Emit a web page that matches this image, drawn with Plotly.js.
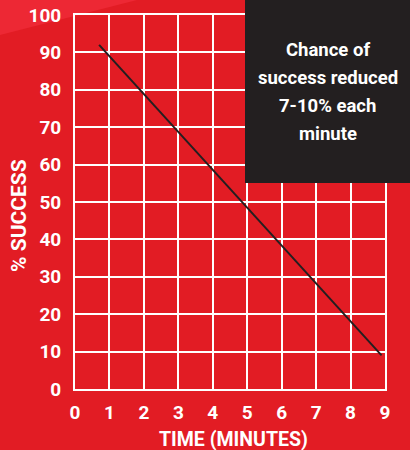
<!DOCTYPE html>
<html>
<head>
<meta charset="utf-8">
<script src="https://cdn.plot.ly/plotly-3.0.1.min.js"></script>
<style>
html,body{margin:0;padding:0;background:#e21c24;}
#chart{width:410px;height:450px;}
</style>
</head>
<body>
<div id="chart"></div>
<script>
// Data
const timeMinutes = [0.7, 8.9];
const successPct = [92, 9];
const xTicks = [0, 1, 2, 3, 4, 5, 6, 7, 8, 9];
const yTicks = [0, 10, 20, 30, 40, 50, 60, 70, 80, 90, 100];
const boxLines = ["Chance of", "success reduced", "7-10% each", "minute"];
const xTitle = "TIME (MINUTES)";
const yTitle = "% SUCCESS";

const W = 410, H = 450;
const L = 75, R = 25, T = 15, B = 61;
const pw = W - L - R, ph = H - T - B;
const px = v => (v - L) / pw;
const py = v => (H - B - v) / ph;

const font = {family: "Roboto, 'DejaVu Sans', sans-serif", color: "#ffffff", size: 19, weight: 700};

const trace = {
  x: timeMinutes, y: successPct, type: "scatter", mode: "lines",
  line: {color: "#231f20", width: 2}, hoverinfo: "skip"
};

const axisCommon = {
  showgrid: true, gridcolor: "#ffffff", gridwidth: 2,
  showline: true, linecolor: "#ffffff", linewidth: 2, mirror: true,
  zeroline: false, ticks: "", fixedrange: true,
  tickfont: font
};

const boxLineY = [50, 78, 106, 134];

const layout = {
  width: W, height: H,
  margin: {l: L, r: R, t: T, b: B, pad: 0},
  paper_bgcolor: "#e21c24", plot_bgcolor: "#e21c24",
  showlegend: false,
  xaxis: Object.assign({}, axisCommon, {range: [0, 9], tickvals: xTicks, ticktext: xTicks.map(String), ticklabelstandoff: 5}),
  yaxis: Object.assign({}, axisCommon, {range: [0, 100], tickvals: yTicks, ticktext: yTicks.map(String), ticklabelstandoff: 8}),
  shapes: [
    {type: "path", xref: "paper", yref: "paper", layer: "below",
     path: `M ${px(0)} ${py(0)} L ${px(0)} ${py(35)} L ${px(137)} ${py(0)} Z`,
     fillcolor: "#ed2834", line: {width: 0}},
    {type: "rect", xref: "paper", yref: "paper", layer: "above",
     x0: px(245), x1: px(410), y0: py(183), y1: py(0),
     fillcolor: "#231f20", line: {width: 0}}
  ],
  annotations: boxLines.map((t, i) => ({
      xref: "paper", yref: "paper", x: px(327.5), y: py(boxLineY[i]), text: t,
      showarrow: false, align: "center", xanchor: "center", yanchor: "middle",
      font: Object.assign({}, font, {size: 18.5})
    })).concat([
    {xref: "paper", yref: "paper", x: px(233), y: py(440), text: xTitle,
     showarrow: false, xanchor: "center", yanchor: "middle", font: Object.assign({}, font, {size: 19.5})},
    {xref: "paper", yref: "paper", x: px(19), y: py(216), text: yTitle,
     showarrow: false, textangle: -90, xanchor: "center", yanchor: "middle", font: Object.assign({}, font, {size: 21})}
  ])
};

Plotly.newPlot("chart", [trace], layout, {displayModeBar: false, staticPlot: true});
</script>
</body>
</html>
